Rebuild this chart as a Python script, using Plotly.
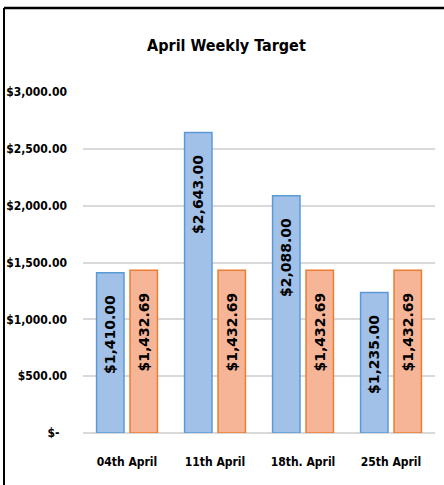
import plotly.graph_objects as go

categories = ["04th April", "11th April", "18th. April", "25th April"]
actual = [1410.00, 2643.00, 2088.00, 1235.00]
target = [1432.69, 1432.69, 1432.69, 1432.69]
tick_vals = [0, 500, 1000, 1500, 2000, 2500, 3000]
tick_text = ["$-  ", "$500.00", "$1,000.00", "$1,500.00", "$2,000.00", "$2,500.00", "$3,000.00"]
title_text = "April Weekly Target"

NB = "\u00a0"
label_font = dict(family="DejaVu Sans", size=14, color="black", weight="bold")
narrow = "DejaVu Sans Condensed"

def fmt(v):
    return f"${v:,.2f}" + NB * 4

fig = go.Figure()
fig.add_trace(go.Bar(
    x=categories, y=actual, name="Actual",
    marker=dict(color="#a2c1e8", line=dict(color="#5b9bd5", width=1.5)),
    text=[fmt(v) for v in actual], textposition="inside", insidetextanchor="end",
    textangle=-90, insidetextfont=label_font, cliponaxis=False,
))
fig.add_trace(go.Bar(
    x=categories, y=target, name="Target",
    marker=dict(color="#f6b596", line=dict(color="#ed7d31", width=1.5)),
    text=[fmt(v) for v in target], textposition="inside", insidetextanchor="end",
    textangle=-90, insidetextfont=label_font, cliponaxis=False,
))

L, R, T, B = 83, 9, 92, 52
W, H = 444, 485
pw, ph = W - L - R, H - T - B

fig.update_layout(
    width=W, height=H,
    margin=dict(l=L, r=R, t=T, b=B, autoexpand=False),
    paper_bgcolor="white", plot_bgcolor="white",
    barmode="group", bargap=0.24, bargroupgap=0.18,
    showlegend=False,
    title=dict(text=title_text, x=0.51, xanchor="center", y=1 - 45 / H, yanchor="middle",
               font=dict(family=narrow, size=16, color="black", weight="bold")),
    xaxis=dict(showgrid=False, showline=False, ticks="", ticklabelstandoff=20, automargin=False,
               tickfont=dict(family=narrow, size=12, color="black", weight="bold")),
    yaxis=dict(range=[0, 3000], tickvals=tick_vals, ticktext=tick_text, automargin=False,
               showgrid=True, gridcolor="#d9d9d9", gridwidth=1.5,
               zeroline=True, zerolinecolor="#d9d9d9", zerolinewidth=1.5,
               showline=False, ticks="", ticklabelstandoff=15,
               tickfont=dict(family=narrow, size=12, color="black", weight="bold")),
    shapes=[
        dict(type="line", xref="paper", yref="paper",
             x0=(4 - L) / pw, x1=(W + 5 - L) / pw, y0=(H - B - 8) / ph, y1=(H - B - 8) / ph,
             line=dict(color="black", width=2.5)),
        dict(type="line", xref="paper", yref="paper",
             x0=(4 - L) / pw, x1=(4 - L) / pw, y0=(H - B - 8) / ph, y1=(H - B - H - 5) / ph,
             line=dict(color="black", width=2)),
    ],
)

fig.write_html("out.html", config={"displayModeBar": False},
               post_script="document.body.style.margin='0';")
